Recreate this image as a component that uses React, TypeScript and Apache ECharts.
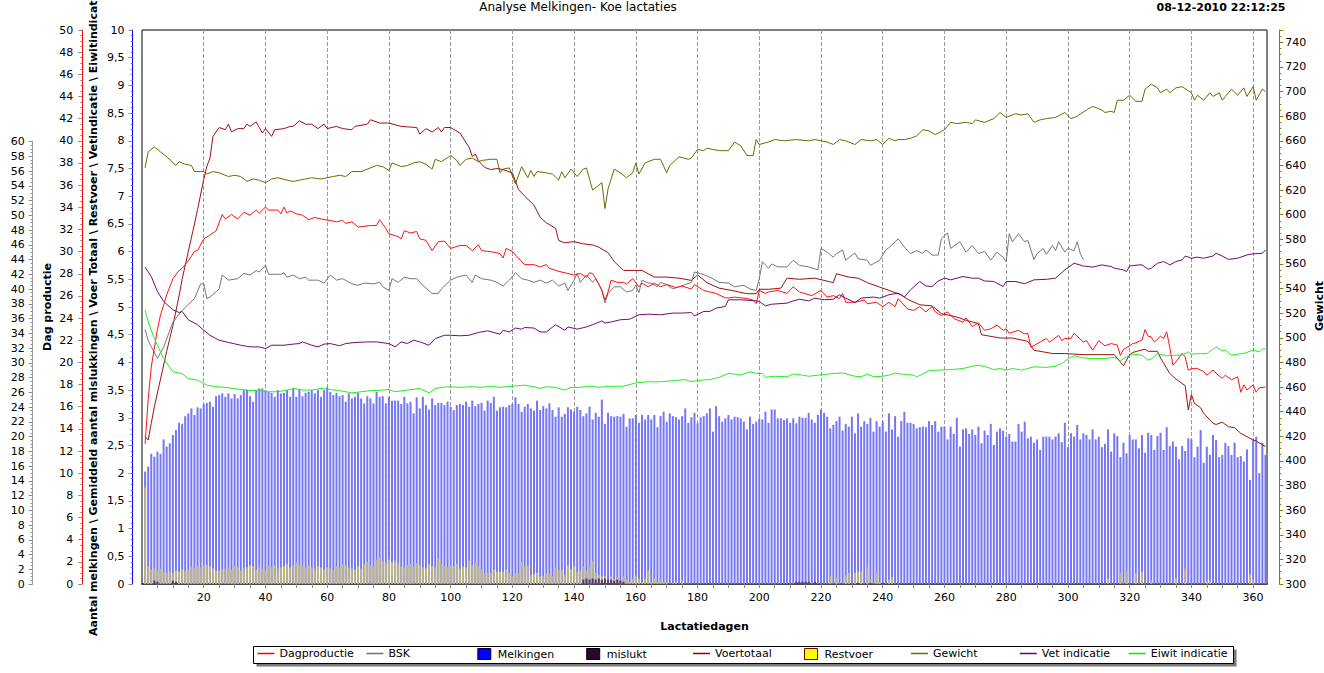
import React, { useEffect, useRef } from "react";
import * as echarts from "echarts";

const titleText = "Analyse Melkingen- Koe lactaties";
const dateText = "08-12-2010 22:12:25";
const xAxisTitle = "Lactatiedagen";
const outerLeftTitle = "Dag productie";
const innerLeftTitle =
  "Aantal melkingen \\ Gemiddeld aantal mislukkingen \\ Voer Totaal \\ Restvoer \\ Vetindicatie \\ Eiwitindicatie";
const rightTitle = "Gewicht";

// Aantal melkingen per dag, day 1..364 (blue axis)
const melkingen: number[] = [
  2.03, 2.12, 2.35, 2.30, 2.39, 2.35, 2.61, 2.48, 2.54, 2.69,
  2.78, 2.91, 2.89, 3.03, 3.08, 3.17, 3.05, 3.19, 3.17, 3.25,
  3.27, 3.29, 3.20, 3.39, 3.41, 3.44, 3.38, 3.44, 3.35, 3.43,
  3.35, 3.41, 3.50, 3.51, 3.39, 3.29, 3.50, 3.53, 3.53, 3.50,
  3.47, 3.45, 3.38, 3.50, 3.44, 3.45, 3.50, 3.38, 3.53, 3.38,
  3.51, 3.39, 3.45, 3.47, 3.50, 3.44, 3.50, 3.38, 3.50, 3.55,
  3.47, 3.41, 3.45, 3.39, 3.41, 3.29, 3.44, 3.35, 3.38, 3.45,
  3.35, 3.26, 3.39, 3.35, 3.26, 3.47, 3.38, 3.39, 3.26, 3.38,
  3.31, 3.31, 3.31, 3.25, 3.38, 3.26, 3.29, 3.08, 3.37, 3.17,
  3.38, 3.23, 3.15, 3.35, 3.23, 3.27, 3.27, 3.23, 3.29, 3.20,
  3.14, 3.23, 3.25, 3.23, 3.29, 3.20, 3.31, 3.21, 3.25,
  3.27, 3.13, 3.31, 3.27, 3.38, 3.13, 3.19, 3.20, 3.19, 3.23,
  3.25, 3.37, 3.25, 3.11, 3.20, 3.25, 3.17, 3.13, 3.31, 3.14,
  3.21, 3.17, 3.26, 3.14, 3.02, 3.19, 3.02, 3.07, 3.19, 3.15,
  3.11, 3.20, 3.14, 3.03, 3.08, 3.20, 2.97, 3.09, 3.02, 3.33,
  2.89, 3.09, 3.03, 3.02, 3.03, 3.02, 3.07, 2.84, 2.99, 2.99,
  3.05, 2.91, 3.05, 2.97, 3.05, 2.97, 3.05, 2.83, 3.03, 3.11,
  2.93, 3.08, 3.03, 3.01, 2.97, 3.03, 3.17, 2.91, 3.01, 3.09,
  2.90, 3.01, 3.03, 3.08, 3.17, 2.75, 3.21, 3.03, 2.93, 2.99,
  3.05, 2.97, 3.02, 3.01, 2.99, 2.93, 2.79, 3.02, 2.89, 2.93,
  2.99, 2.97, 3.11, 2.91, 3.15, 3.15, 2.99, 2.99, 2.96, 2.99,
  2.91, 2.99, 2.90,
  3.02, 3.00, 3.00, 3.09, 2.97, 2.91, 3.05, 3.15, 3.09, 3.02,
  2.81, 2.87, 2.94, 3.02, 2.77, 2.89, 2.84, 3.02, 2.72, 3.08,
  2.84, 2.94, 2.89, 3.00, 2.75, 2.94, 2.84, 2.94, 2.75, 3.08,
  2.79, 3.03, 2.66, 2.94, 3.11, 2.91, 2.91, 2.89, 2.81, 2.83,
  2.84, 2.83, 2.94, 2.87, 2.94, 2.75, 2.84, 2.84, 2.61, 2.84,
  2.71, 3.00, 2.48, 2.79, 2.81, 2.71, 2.79, 2.69, 2.84, 2.54,
  2.77, 2.69, 2.89, 2.51, 2.75, 2.81, 2.77, 2.66, 2.71, 2.57,
  2.57, 2.89, 2.75, 2.93, 2.63, 2.66, 2.55, 2.61, 2.42, 2.66,
  2.66, 2.66, 2.61, 2.66, 2.72, 2.56, 2.91, 2.47, 2.72, 2.66,
  2.87, 2.61, 2.72, 2.69, 2.61, 2.79, 2.61, 2.66,
  2.47, 2.53, 2.79, 2.39, 2.72, 2.67, 2.29, 2.55, 2.36, 2.69,
  2.61, 2.61, 2.45, 2.69, 2.37, 2.73, 2.69, 2.42, 2.67, 2.73,
  2.42, 2.83, 2.49, 2.57, 2.48, 2.25, 2.49, 2.40, 2.63, 2.61,
  2.29, 2.48, 2.78, 2.19, 2.48, 2.33, 2.69, 2.60, 2.29, 2.33,
  2.55, 2.49, 2.33, 2.55, 2.29, 2.31, 2.21, 2.43, 1.88, 2.60,
  2.66, 2.00, 2.55, 2.33,
];

// Restvoer [day, kg] (red axis)
const restvoer: [number, number][] = [
  [1, 8.7], [2, 1.6], [3, 1.3], [4, 1.4], [5, 1.3], [6, 1.4], [7, 1.1], [8, 1.0], [9, 1.1], [10, 1.0],
  [11, 1.2], [12, 1.1], [13, 1.3], [14, 1.2], [15, 1.3], [16, 1.5], [17, 1.4], [18, 1.6], [19, 1.5], [20, 1.7],
  [21, 1.7], [22, 1.6], [23, 1.4], [24, 1.2], [25, 1.2], [26, 1.3], [27, 1.4], [28, 1.5], [29, 1.3], [30, 1.6],
  [31, 1.5], [32, 1.2], [33, 1.4], [34, 1.5], [35, 1.7], [36, 1.6], [37, 1.3], [38, 1.5], [39, 1.4], [40, 1.3],
  [41, 1.6], [42, 1.5], [43, 1.7], [44, 1.4], [45, 1.5], [46, 1.6], [47, 1.8], [48, 1.5], [49, 1.7], [50, 1.9],
  [51, 1.8], [52, 1.6], [53, 1.5], [54, 1.7], [55, 1.5], [56, 1.4], [57, 1.6], [58, 1.5], [59, 1.3], [60, 1.5],
  [61, 1.4], [62, 1.3], [63, 1.6], [64, 1.5], [65, 1.8], [66, 1.7], [67, 1.5], [68, 1.4], [69, 1.3], [70, 1.6],
  [71, 1.4], [72, 1.8], [73, 2.0], [74, 1.7], [75, 1.6], [76, 2.2], [77, 2.4], [78, 2.1], [79, 1.9], [80, 2.2],
  [81, 2.0], [82, 2.1], [83, 1.9], [84, 1.6], [85, 1.5], [86, 1.7], [87, 1.8], [88, 1.6], [89, 1.9], [90, 1.7],
  [91, 1.5], [92, 1.4], [93, 1.8], [94, 1.6], [95, 1.5], [96, 2.3], [97, 1.8], [98, 1.6], [99, 1.5], [100, 1.7],
  [101, 1.6], [102, 1.8], [103, 1.4], [104, 1.6], [105, 1.5], [106, 2.1], [107, 1.7], [108, 1.9], [109, 1.6], [110, 1.3],
  [111, 1.0], [112, 1.0], [113, 1.0], [114, 1.3], [115, 1.1], [116, 1.1], [117, 1.1], [118, 1.3], [119, 1.0], [120, 0.7],
  [121, 1.0], [122, 1.0], [123, 2.0], [124, 1.6], [125, 1.6], [126, 0.8], [127, 0.9], [128, 1.0], [129, 0.7], [130, 0.7],
  [131, 1.0], [132, 1.0], [133, 0.7], [134, 1.5], [135, 1.3], [136, 1.3], [137, 0.8], [138, 1.7], [139, 1.3], [140, 1.6],
  [141, 1.1], [142, 1.2], [143, 1.6], [144, 1.2], [145, 1.6], [146, 2.1], [147, 1.0], [148, 0.8], [149, 0.7], [150, 0.7],
  [151, 0.4], [152, 0.7], [153, 0.5], [154, 0.6], [155, 0.2], [156, 0.7], [157, 0.4], [158, 0.2], [159, 0.5], [160, 0.7],
  [161, 0.5], [162, 0.2], [163, 0.5], [164, 1.2], [165, 0.2], [166, 0.5], [167, 0.2], [168, 0.4], [169, 0.2], [170, 0.2],
  [172, 0.1], [173, 0.2], [175, 0.3],
  [223, 0.7], [225, 0.6], [228, 0.8], [229, 1.0], [231, 1.0], [232, 1.1], [233, 1.1], [235, 1.5], [236, 0.4], [238, 1.0],
  [239, 0.2], [242, 0.4], [243, 0.6],
  [313, 0.5], [317, 1.0], [319, 1.1], [322, 1.0], [324, 1.1], [327, 0.3], [335, 0.5], [338, 1.4], [345, 0.3], [346, 0.3],
  [359, 0.9], [360, 0.4],
];

// Mislukt [day, value] (red axis)
const mislukt: [number, number][] = [
  [4, 0.3], [5, 0.2], [10, 0.3], [11, 0.2],
  [143, 0.4], [144, 0.5], [145, 0.4], [146, 0.5], [147, 0.4], [148, 0.5], [149, 0.4], [150, 0.5], [151, 0.4],
  [152, 0.4], [153, 0.3], [154, 0.4], [155, 0.3], [156, 0.2],
  [212, 0.2], [213, 0.2], [214, 0.2], [215, 0.2], [216, 0.2], [218, 0.2], [232, 0.1], [236, 0.1], [240, 0.1],
];

// Dagproductie [day, kg] (Dag productie axis)
const dagproductie: [number, number][] = [
  [1, 19], [2, 25], [3, 29.4], [4, 32], [5, 34.5], [6, 36.5], [7, 37.8], [8, 39.2], [9, 40.3], [10, 41.4],
  [12, 42.5], [13, 42.8], [15, 43.8], [17, 45.1], [18, 45.2], [20, 46.8], [22, 47.3], [24, 47.9], [26, 50.1], [27, 49.5],
  [29, 50.1], [31, 49.5], [33, 50.4], [35, 50.0], [37, 50.7], [38, 50.3], [40, 51.1], [41, 50.7], [44, 50.7], [45, 50.2],
  [46, 51.1], [47, 50.3], [48, 50.6], [50, 50.2], [52, 50.0], [54, 49.4], [56, 49.7], [59, 49.4], [61, 49.3], [63, 49.1],
  [65, 49.3], [66, 48.9], [68, 49.1], [70, 48.4], [74, 48.6], [76, 48.6], [77, 49.4], [79, 48.2], [80, 47.5], [83, 47.1],
  [84, 46.8], [85, 47.9], [87, 47.6], [89, 47.8], [90, 46.8], [92, 46.6], [94, 45.2], [96, 46.4], [98, 46.5], [100, 45.5],
  [103, 45.9], [105, 45.9], [107, 45.2], [109, 46.0], [110, 45.2], [112, 45.1], [114, 45.0], [116, 44.8], [117, 44.2], [118, 45.5],
  [120, 45.1], [121, 44.6], [124, 43.3], [127, 43.3], [129, 43.0], [131, 43.3], [132, 42.8], [135, 42.4], [138, 42.1], [140, 41.9],
  [142, 42.1], [144, 41.6], [145, 42.2], [146, 42.1], [148, 40.7], [149, 39.8], [150, 38.5], [151, 39.6], [152, 41.2], [154, 40.9],
  [156, 40.9], [157, 40.7], [159, 41.4], [161, 40.3], [162, 40.8], [164, 40.3], [166, 40.8], [168, 40.3], [170, 40.6], [173, 40.2],
  [175, 40.4], [178, 40.0], [179, 40.6], [182, 39.8], [184, 39.6], [186, 39.4], [189, 38.8], [190, 38.8], [192, 38.9], [196, 38.7],
  [198, 38.5], [199, 38.0], [200, 39.8], [202, 39.4], [203, 39.6], [206, 39.8], [209, 39.4], [211, 40.3], [213, 39.6], [217, 39.1],
  [220, 39.8], [222, 38.9], [224, 39.1], [226, 38.7], [227, 39.4], [228, 38.2], [231, 38.2], [234, 38.5], [235, 38.0], [238, 38.2],
  [240, 37.6], [242, 38.2], [244, 37.6], [245, 38.7], [248, 37.3], [250, 37.1], [252, 37.6], [254, 36.9], [256, 37.6], [257, 36.9],
  [259, 36.4], [261, 36.9], [263, 36.0], [266, 35.5], [267, 36.1], [269, 34.9], [271, 35.4], [273, 34.4], [275, 34.6], [277, 35.1],
  [279, 34.4], [280, 34.6], [281, 34.0], [284, 34.4], [286, 33.9], [287, 34.0], [288, 32.1], [291, 32.8], [293, 33.3], [294, 32.8],
  [297, 33.7], [298, 33.0], [299, 33.3], [301, 33.3], [302, 34.0], [305, 32.8], [306, 33.0], [308, 31.7], [310, 33.0], [312, 32.3],
  [314, 32.6], [316, 32.4], [317, 31.0], [318, 31.8], [320, 32.3], [321, 32.6], [322, 32.7], [324, 33.1], [325, 34.5], [326, 33.6],
  [327, 33.5], [328, 32.8], [330, 33.6], [331, 33.3], [332, 34.2], [333, 32.1], [334, 29.7], [335, 30.1], [337, 31.3], [338, 30.8],
  [339, 29.0], [340, 29.2], [342, 29.2], [344, 28.8], [345, 28.3], [347, 29.0], [349, 28.2], [350, 27.9], [351, 28.3], [353, 27.7],
  [354, 27.9], [355, 28.1], [356, 26.0], [357, 27.0], [358, 26.3], [360, 27.0], [361, 26.0], [362, 26.6], [364, 26.7],
];

// BSK [day, kg] (Dag productie axis)
const bsk: [number, number][] = [
  [1, 34.5], [2, 33.0], [5, 30.6], [7, 32.1], [10, 35.5], [13, 37.1], [17, 38.7], [19, 40.7], [20, 40.7], [21, 38.7],
  [22, 38.9], [25, 40.0], [26, 41.9], [28, 41.2], [31, 41.4], [33, 42.1], [35, 41.9], [37, 42.5], [38, 42.3], [40, 43.2],
  [41, 42.0], [45, 42.0], [46, 42.2], [47, 41.6], [49, 41.9], [51, 41.4], [53, 41.6], [54, 41.2], [57, 41.2], [59, 40.8],
  [61, 41.9], [63, 41.2], [65, 41.4], [68, 40.7], [70, 40.5], [72, 40.8], [75, 40.7], [77, 40.9], [78, 40.3], [80, 39.8],
  [81, 41.4], [83, 40.9], [85, 41.6], [87, 41.4], [89, 41.4], [91, 40.5], [94, 39.4], [96, 39.4], [97, 40.0], [100, 41.2],
  [102, 41.6], [105, 41.9], [107, 40.9], [108, 41.9], [110, 41.4], [113, 41.2], [115, 40.9], [117, 40.4], [119, 41.2], [121, 42.2],
  [123, 41.4], [125, 41.2], [127, 40.9], [129, 41.2], [131, 40.8], [133, 41.2], [135, 40.4], [137, 40.8], [138, 39.8], [140, 41.2],
  [141, 42.1], [142, 40.9], [144, 41.9], [146, 40.9], [147, 41.4], [149, 39.8], [150, 38.1], [151, 39.4], [153, 40.3], [155, 40.3],
  [157, 39.6], [159, 39.8], [160, 40.5], [161, 39.5], [162, 41.2], [164, 40.8], [165, 40.8], [167, 40.3], [168, 40.9], [170, 40.6],
  [172, 40.0], [174, 40.3], [176, 40.6], [178, 40.9], [179, 42.3], [181, 42.1], [184, 41.6], [187, 40.9], [190, 40.8], [192, 40.3],
  [195, 40.5], [197, 40.0], [199, 39.8], [200, 41.4], [201, 43.7], [203, 42.8], [204, 43.4], [206, 43.0], [209, 43.0], [211, 43.9],
  [213, 43.2], [216, 43.0], [219, 42.6], [220, 45.5], [222, 45.0], [224, 44.3], [225, 44.8], [227, 45.3], [228, 43.9], [231, 44.9],
  [232, 44.1], [235, 43.9], [236, 43.2], [239, 43.9], [241, 45.3], [242, 45.6], [245, 46.8], [247, 45.7], [249, 44.8], [251, 45.2],
  [253, 44.8], [254, 45.3], [256, 44.6], [258, 44.6], [259, 46.8], [261, 47.6], [262, 45.5], [265, 46.4], [267, 45.0], [269, 45.9],
  [271, 44.8], [273, 45.1], [275, 43.9], [277, 45.0], [279, 44.3], [280, 43.7], [281, 47.5], [282, 46.4], [284, 47.5], [286, 46.4],
  [287, 46.6], [289, 44.0], [290, 44.8], [292, 45.5], [293, 44.7], [295, 45.9], [296, 45.2], [297, 46.4], [299, 45.0], [300, 45.5],
  [302, 45.2], [303, 46.4], [304, 44.8], [305, 44.0],
];

// Voertotaal [day, kg] (red axis)
const voertotaal: [number, number][] = [
  [1, 13.3], [2, 13.0], [3, 14.5], [4, 16.0], [6, 18.5], [8, 21.0], [10, 23.3], [12, 26.0], [13, 27.5], [15, 30.0],
  [17, 32.5], [18, 33.8], [20, 36.5], [21, 37.7], [22, 38.4], [23, 40.4], [25, 41.2], [27, 41.0], [28, 41.5], [29, 40.8],
  [31, 41.1], [33, 41.1], [34, 41.5], [35, 41.3], [37, 41.7], [39, 40.7], [40, 41.1], [42, 40.4], [43, 41.0], [46, 41.1],
  [48, 41.3], [49, 41.3], [51, 41.8], [53, 41.5], [55, 41.5], [57, 41.1], [59, 41.5], [60, 41.1], [63, 41.3], [65, 41.1],
  [68, 41.0], [69, 41.3], [73, 41.5], [74, 41.9], [77, 41.6], [80, 41.6], [84, 41.3], [89, 41.2], [90, 40.6], [92, 41.1],
  [94, 40.8], [96, 41.2], [97, 40.8], [98, 41.2], [100, 41.2], [103, 40.7], [106, 39.4], [107, 38.6], [108, 38.8], [109, 38.2],
  [111, 37.6], [113, 37.4], [115, 37.5], [117, 37.4], [120, 37.1], [122, 35.6], [124, 35.0], [127, 34.2], [129, 33.1], [131, 32.6],
  [134, 32.1], [135, 31.0], [137, 30.8], [140, 30.9], [143, 30.7], [146, 30.6], [148, 30.4], [151, 29.9], [153, 29.1], [156, 28.3],
  [162, 28.3], [166, 27.7], [170, 27.7], [174, 27.6], [178, 27.4], [180, 27.9], [183, 27.2], [187, 26.7], [191, 26.5], [196, 26.2],
  [199, 26.2], [200, 26.6], [203, 26.6], [207, 26.7], [209, 27.6], [213, 27.5], [218, 27.6], [224, 27.2], [225, 28.0], [229, 27.7],
  [232, 27.6], [235, 27.2], [239, 26.8], [243, 26.4], [246, 26.1], [248, 25.7], [252, 25.2], [256, 25.1], [259, 24.4], [264, 24.1],
  [267, 23.8], [271, 23.5], [272, 22.5], [278, 22.2], [282, 22.2], [287, 21.9], [289, 21.1], [295, 20.8], [299, 20.8], [305, 20.7],
  [310, 20.7], [315, 20.7], [318, 19.7], [320, 20.7], [321, 20.9], [325, 21.2], [326, 21.0], [329, 21.0], [330, 20.4], [333, 19.0],
  [335, 18.5], [338, 17.9], [339, 15.7], [340, 17.1], [341, 16.3], [343, 15.9], [344, 15.4], [347, 14.5], [348, 14.4], [350, 14.6],
  [352, 14.2], [354, 14.1], [356, 13.6], [360, 13.0], [361, 12.9], [364, 12.4],
];

// Gewicht [day, kg] (right axis)
const gewicht: [number, number][] = [
  [1, 638], [2, 651], [4, 655], [6, 651], [8, 647], [11, 640], [12, 643], [14, 641], [16, 640], [17, 635],
  [20, 635], [21, 633], [23, 635], [25, 634], [28, 631], [30, 632], [32, 631], [34, 627], [36, 629], [38, 628],
  [40, 626], [42, 629], [44, 630], [47, 628], [49, 627], [51, 628], [53, 629], [55, 630], [58, 629], [60, 630],
  [62, 631], [64, 632], [66, 631], [68, 635], [71, 635], [73, 637], [76, 640], [78, 639], [80, 636], [81, 642],
  [84, 639], [86, 640], [88, 642], [90, 643], [92, 641], [94, 637], [95, 645], [97, 643], [100, 648], [102, 644],
  [103, 640], [105, 645], [107, 646], [109, 643], [110, 644], [113, 645], [115, 645], [116, 634], [117, 637], [119, 638],
  [121, 625], [123, 639], [125, 630], [126, 636], [127, 631], [128, 635], [131, 634], [133, 633], [135, 628], [136, 635],
  [137, 630], [139, 637], [141, 631], [143, 637], [144, 638], [146, 620], [148, 624], [149, 626], [150, 605], [151, 621],
  [153, 637], [155, 634], [157, 630], [159, 634], [160, 642], [161, 633], [163, 642], [166, 645], [168, 645], [170, 634],
  [171, 640], [174, 647], [177, 645], [178, 646], [180, 653], [182, 652], [183, 654], [185, 653], [187, 652], [190, 652],
  [192, 659], [194, 656], [196, 648], [198, 648], [199, 661], [200, 657], [203, 659], [205, 661], [208, 660], [212, 661],
  [216, 660], [218, 661], [220, 660], [222, 659], [224, 657], [226, 661], [228, 660], [231, 657], [233, 661], [236, 660],
  [238, 661], [239, 659], [240, 657], [242, 662], [244, 660], [245, 661], [247, 661], [249, 662], [251, 664], [253, 669],
  [255, 668], [257, 665], [260, 669], [262, 675], [264, 674], [267, 675], [269, 674], [270, 677], [273, 675], [276, 678],
  [278, 683], [280, 679], [283, 682], [285, 681], [287, 682], [289, 675], [291, 677], [293, 678], [296, 679], [299, 683],
  [301, 678], [303, 680], [306, 685], [308, 688], [310, 686], [311, 685], [312, 683], [314, 684], [315, 683], [316, 693],
  [318, 693], [320, 697], [322, 692], [324, 692], [325, 702], [327, 706], [329, 703], [330, 699], [332, 702], [333, 699],
  [335, 703], [337, 704], [340, 699], [341, 693], [342, 697], [344, 693], [346, 699], [347, 696], [349, 699], [350, 693],
  [351, 696], [353, 702], [355, 697], [357, 703], [358, 696], [360, 704], [361, 693], [363, 702], [364, 700],
];

// Vet indicatie [day, %] (blue axis)
const vetIndicatie: [number, number][] = [
  [1, 5.72], [3, 5.55], [5, 5.28], [7, 5.10], [10, 4.95], [12, 4.90], [13, 4.92], [15, 4.77], [18, 4.68], [20, 4.58],
  [22, 4.49], [25, 4.40], [28, 4.36], [32, 4.31], [35, 4.28], [38, 4.28], [40, 4.25], [42, 4.31], [46, 4.31], [49, 4.33],
  [51, 4.34], [52, 4.37], [55, 4.31], [57, 4.28], [59, 4.33], [61, 4.34], [64, 4.30], [66, 4.34], [69, 4.36], [73, 4.37],
  [76, 4.37], [80, 4.34], [82, 4.28], [84, 4.37], [86, 4.34], [88, 4.40], [90, 4.37], [93, 4.31], [95, 4.43], [98, 4.49],
  [100, 4.49], [103, 4.48], [106, 4.49], [109, 4.54], [112, 4.57], [116, 4.51], [117, 4.58], [119, 4.55], [121, 4.62], [123, 4.60],
  [124, 4.63], [127, 4.62], [129, 4.55], [131, 4.55], [134, 4.68], [137, 4.58], [138, 4.64], [141, 4.60], [144, 4.64], [146, 4.68],
  [149, 4.75], [150, 4.71], [152, 4.73], [155, 4.77], [158, 4.78], [161, 4.86], [164, 4.87], [168, 4.86], [172, 4.89], [175, 4.89],
  [178, 4.90], [179, 4.84], [182, 4.92], [184, 4.92], [186, 4.98], [189, 5.01], [190, 5.13], [194, 5.13], [199, 5.11], [200, 5.10],
  [202, 5.02], [204, 5.05], [209, 5.07], [211, 5.11], [213, 5.14], [216, 5.11], [218, 5.16], [221, 5.13], [224, 5.14], [226, 5.22],
  [228, 5.16], [231, 5.08], [233, 5.16], [237, 5.18], [239, 5.16], [242, 5.22], [245, 5.25], [247, 5.18], [249, 5.31], [252, 5.46],
  [254, 5.38], [256, 5.37], [258, 5.47], [260, 5.52], [262, 5.49], [266, 5.55], [269, 5.52], [271, 5.52], [273, 5.47], [276, 5.46],
  [279, 5.37], [280, 5.46], [283, 5.46], [286, 5.42], [289, 5.49], [293, 5.50], [296, 5.52], [299, 5.67], [302, 5.79], [305, 5.74],
  [308, 5.72], [311, 5.76], [314, 5.73], [315, 5.70], [317, 5.68], [318, 5.67], [319, 5.64], [320, 5.74], [323, 5.76], [324, 5.76],
  [326, 5.68], [327, 5.70], [329, 5.79], [331, 5.82], [333, 5.76], [335, 5.82], [337, 5.85], [338, 5.92], [340, 5.88], [342, 5.90],
  [344, 5.88], [347, 5.92], [348, 5.97], [350, 5.92], [352, 5.86], [355, 5.88], [358, 5.94], [360, 5.96], [363, 5.97], [364, 6.03],
];

// Eiwit indicatie [day, %] (blue axis)
const eiwitIndicatie: [number, number][] = [
  [1, 4.95], [2, 4.73], [4, 4.43], [7, 4.07], [10, 3.83], [13, 3.80], [15, 3.71], [18, 3.68], [20, 3.62], [21, 3.59],
  [24, 3.56], [27, 3.55], [32, 3.51], [35, 3.49], [38, 3.50], [40, 3.47], [44, 3.47], [47, 3.50], [49, 3.53], [52, 3.50],
  [55, 3.50], [58, 3.53], [61, 3.51], [64, 3.49], [68, 3.45], [74, 3.49], [78, 3.50], [80, 3.51], [82, 3.47], [86, 3.50],
  [90, 3.53], [93, 3.45], [95, 3.53], [99, 3.56], [103, 3.55], [107, 3.56], [110, 3.55], [113, 3.57], [116, 3.55], [120, 3.57],
  [124, 3.59], [127, 3.56], [129, 3.53], [131, 3.56], [134, 3.55], [137, 3.50], [139, 3.55], [142, 3.55], [145, 3.57], [148, 3.55],
  [152, 3.57], [156, 3.57], [160, 3.63], [164, 3.65], [168, 3.65], [172, 3.67], [176, 3.69], [178, 3.65], [181, 3.68], [184, 3.69],
  [187, 3.73], [190, 3.80], [192, 3.79], [194, 3.77], [197, 3.83], [199, 3.80], [201, 3.80], [202, 3.73], [205, 3.75], [209, 3.74],
  [211, 3.79], [214, 3.77], [216, 3.75], [219, 3.77], [224, 3.80], [227, 3.81], [231, 3.75], [233, 3.74], [235, 3.79], [237, 3.74],
  [240, 3.75], [242, 3.77], [244, 3.81], [246, 3.79], [250, 3.77], [251, 3.74], [253, 3.79], [255, 3.85], [258, 3.86], [262, 3.87],
  [266, 3.89], [269, 3.93], [271, 3.95], [274, 3.91], [276, 3.87], [278, 3.89], [280, 3.86], [282, 3.89], [285, 3.86], [287, 3.89],
  [289, 3.92], [293, 3.91], [296, 3.93], [298, 3.98], [300, 4.06], [302, 4.12], [304, 4.09], [307, 4.07], [312, 4.07], [315, 4.09],
  [317, 4.03], [319, 4.10], [321, 4.15], [324, 4.13], [326, 4.04], [327, 4.06], [329, 4.16], [332, 4.12], [335, 4.13], [337, 4.13],
  [339, 4.19], [340, 4.15], [343, 4.16], [345, 4.16], [348, 4.28], [350, 4.21], [351, 4.22], [353, 4.13], [355, 4.15], [357, 4.16],
  [360, 4.22], [362, 4.19], [363, 4.24], [364, 4.24],
];

const legendItems = [
  { name: "Dagproductie", kind: "line", color: "#ff0000" },
  { name: "BSK", kind: "line", color: "#6e6e6e" },
  { name: "Melkingen", kind: "box", color: "#0000ff", border: "#000040" },
  { name: "mislukt", kind: "box", color: "#2a0a2a", border: "#000000" },
  { name: "Voertotaal", kind: "line", color: "#990000" },
  { name: "Restvoer", kind: "box", color: "#ffff00", border: "#800000" },
  { name: "Gewicht", kind: "line", color: "#6b6b00" },
  { name: "Vet indicatie", kind: "line", color: "#6e006e" },
  { name: "Eiwit indicatie", kind: "line", color: "#00ee00" },
];

const FONT = "'DejaVu Sans', Verdana, sans-serif";
const X_MAX = 364.5;

export default function App() {
  const ref = useRef<HTMLDivElement>(null);

  useEffect(() => {
    if (!ref.current) return;
    const chart = echarts.init(ref.current, undefined, { renderer: "svg" });

    const labelStyle = { fontSize: 11, fontFamily: FONT, color: "#000" };
    const tickStyle = { color: "#8a8a8a", width: 1 };
    const xTicks = Array.from({ length: 72 }, (_, i) => (i + 1) * 5);

    const lineSeries = (name: string, color: string, data: [number, number][], xAxisIndex: number, yAxisIndex: number, z: number) => ({
      name,
      type: "line",
      xAxisIndex,
      yAxisIndex,
      data,
      color,
      showSymbol: false,
      symbol: "none",
      lineStyle: { color, width: 1 },
      silent: true,
      z,
    });

    const option: any = {
      animation: false,
      grid: [
        { left: 142, right: 57, top: 30, bottom: 89, show: true, borderColor: "#000", borderWidth: 1, backgroundColor: "#fff" },
        { left: 142, right: 57, top: 141.5, bottom: 89, show: false },
      ],
      xAxis: [
        {
          gridIndex: 0,
          type: "value",
          min: 0,
          max: X_MAX,
          interval: 20,
          axisLine: { show: true, onZero: false, lineStyle: { color: "#4a4a4a", width: 2 } },
          axisTick: { show: true, length: 4, lineStyle: tickStyle, customValues: xTicks },
          axisLabel: { ...labelStyle, margin: 8, showMinLabel: false, showMaxLabel: false },
          splitLine: { show: false },
        },
        { gridIndex: 1, type: "value", min: 0, max: X_MAX, show: false },
        {
          gridIndex: 0,
          type: "value",
          position: "bottom",
          min: 0,
          max: X_MAX,
          interval: 20,
          axisLine: { show: false },
          axisTick: { show: false },
          axisLabel: { show: false },
          splitLine: { show: true, showMinLine: false, showMaxLine: false, lineStyle: { color: "#9a9a9a", type: [4, 2], width: 1 } },
        },
      ],
      yAxis: [
        {
          gridIndex: 0,
          type: "value",
          position: "left",
          offset: 9.5,
          min: 0,
          max: 10,
          interval: 0.5,
          axisLine: { show: true, onZero: false, lineStyle: { color: "#0000ff" } },
          axisTick: { show: true, length: 4, lineStyle: tickStyle },
          minorTick: { show: true, splitNumber: 5, length: 2, lineStyle: tickStyle },
          axisLabel: { ...labelStyle, margin: 8, formatter: (v: number) => String(v).replace(".", ",") },
          splitLine: { show: false },
        },
        {
          gridIndex: 0,
          type: "value",
          position: "left",
          offset: 59.7,
          min: 0,
          max: 50,
          interval: 2,
          axisLine: { show: true, onZero: false, lineStyle: { color: "#ff0000" } },
          axisTick: { show: true, length: 4, lineStyle: tickStyle },
          minorTick: { show: true, splitNumber: 4, length: 2, lineStyle: tickStyle },
          axisLabel: { ...labelStyle, margin: 9 },
          splitLine: { show: false },
        },
        {
          gridIndex: 0,
          type: "value",
          position: "right",
          offset: 12.3,
          min: 300,
          max: 750,
          interval: 20,
          axisLine: { show: true, onZero: false, lineStyle: { color: "#808000" } },
          axisTick: { show: true, length: 4, lineStyle: { color: "#808000" } },
          minorTick: { show: true, splitNumber: 4, length: 2, lineStyle: { color: "#808000" } },
          axisLabel: { ...labelStyle, margin: 6, showMaxLabel: false },
          splitLine: { show: false },
        },
        {
          gridIndex: 1,
          type: "value",
          position: "left",
          offset: 109.3,
          min: 0,
          max: 60,
          interval: 2,
          axisLine: { show: true, onZero: false, lineStyle: { color: "#9a9a9a" } },
          axisTick: { show: true, length: 4, lineStyle: tickStyle },
          minorTick: { show: true, splitNumber: 4, length: 2, lineStyle: tickStyle },
          axisLabel: { ...labelStyle, margin: 8 },
          splitLine: { show: false },
        },
      ],
      legend: legendItems.map((it, k) => ({
        data: [
          {
            name: it.name,
            icon: "rect",
            itemStyle:
              it.kind === "box"
                ? { color: it.color, borderColor: it.border, borderWidth: 1 }
                : { color: it.color, borderWidth: 0 },
          },
        ],
        left: 257.5 + k * 108.9 + (it.kind === "box" ? 2 : 0),
        top: 648,
        padding: 0,
        itemGap: 0,
        itemWidth: it.kind === "box" ? 13 : 17,
        itemHeight: it.kind === "box" ? 11 : 1.5,
        selectedMode: false,
        textStyle: { fontSize: 11, fontFamily: FONT, color: "#000", padding: [0, 0, 0, it.kind === "box" ? 2 : 0] },
        z: 5,
      })),
      graphic: [
        { type: "rect", z: 1, silent: true, shape: { x: 256.5, y: 649.5, width: 980, height: 17 }, style: { fill: "#7a7a7a" } },
        { type: "rect", z: 2, silent: true, shape: { x: 253.5, y: 646.5, width: 980, height: 17 }, style: { fill: "#fff", stroke: "#000", lineWidth: 1 } },
        {
          type: "text", z: 3, x: 578, y: 7,
          style: { text: titleText, font: `12px ${FONT}`, fill: "#000", align: "center", verticalAlign: "middle", textAlign: "center", textVerticalAlign: "middle" },
        },
        {
          type: "text", z: 3, x: 1221, y: 7,
          style: { text: dateText, font: `bold 11px ${FONT}`, fill: "#000", align: "center", verticalAlign: "middle", textAlign: "center", textVerticalAlign: "middle" },
        },
        {
          type: "text", z: 3, x: 704.5, y: 626,
          style: { text: xAxisTitle, font: `bold 11px ${FONT}`, fill: "#000", align: "center", verticalAlign: "middle", textAlign: "center", textVerticalAlign: "middle" },
        },
        {
          type: "text", z: 3, x: 47, y: 307, rotation: Math.PI / 2,
          style: { text: outerLeftTitle, font: `bold 11px ${FONT}`, fill: "#000", align: "center", verticalAlign: "middle", textAlign: "center", textVerticalAlign: "middle" },
        },
        {
          type: "text", z: 3, x: 93, y: 636, rotation: Math.PI / 2,
          style: { text: innerLeftTitle, font: `bold 11px ${FONT}`, fill: "#000", align: "left", verticalAlign: "middle", textAlign: "left", textVerticalAlign: "middle" },
        },
        {
          type: "text", z: 3, x: 1319, y: 306, rotation: Math.PI / 2,
          style: { text: rightTitle, font: `bold 11px ${FONT}`, fill: "#000", align: "center", verticalAlign: "middle", textAlign: "center", textVerticalAlign: "middle" },
        },
      ],
      series: [
        {
          name: "Melkingen", type: "bar", xAxisIndex: 0, yAxisIndex: 0,
          data: melkingen.map((v, i) => [i + 1, v]),
          barWidth: 2, barGap: "-100%", color: "#7676f4",
          itemStyle: { color: "#7676f4" }, silent: true, z: 1,
        },
        {
          name: "Restvoer", type: "bar", xAxisIndex: 0, yAxisIndex: 1,
          data: restvoer, barWidth: 2, barGap: "-100%", color: "#b8b287",
          itemStyle: { color: "#b8b287" }, silent: true, z: 2,
        },
        {
          name: "mislukt", type: "bar", xAxisIndex: 0, yAxisIndex: 1,
          data: mislukt, barWidth: 2, barGap: "-100%", color: "#5a3a66",
          itemStyle: { color: "#5a3a66" }, silent: true, z: 3,
        },
        lineSeries("Gewicht", "#6b6b00", gewicht, 0, 2, 4),
        lineSeries("Voertotaal", "#a01010", voertotaal, 0, 1, 5),
        lineSeries("BSK", "#777777", bsk, 1, 3, 6),
        lineSeries("Dagproductie", "#ff1010", dagproductie, 1, 3, 7),
        lineSeries("Vet indicatie", "#720a72", vetIndicatie, 0, 0, 8),
        lineSeries("Eiwit indicatie", "#22ee22", eiwitIndicatie, 0, 0, 9),
      ],
    };

    chart.setOption(option);
    return () => chart.dispose();
  }, []);

  return (
    <div
      ref={ref}
      style={{ position: "absolute", left: 0, top: 0, width: 1324, height: 673, background: "#fff" }}
    />
  );
}
